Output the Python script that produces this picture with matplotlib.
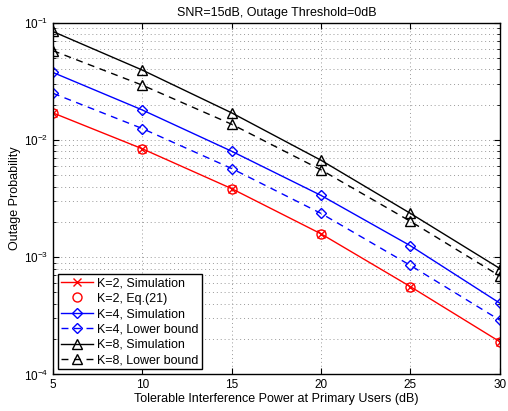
import matplotlib
matplotlib.use("Agg")
import matplotlib.pyplot as plt
import numpy as np

plt.rcParams['font.family'] = ['Liberation Sans', 'DejaVu Sans']

x = [5, 10, 15, 20, 25, 30]
k2_sim = [0.0170, 0.0084, 0.00384, 0.00158, 0.000560, 0.000190]
k2_eq = [0.0170, 0.0084, 0.00384, 0.00158, 0.000560, 0.000190]
k4_sim = [0.0376, 0.0180, 0.0080, 0.00336, 0.00125, 0.000405]
k4_lb = [0.0250, 0.0125, 0.0057, 0.00236, 0.00085, 0.000290]
k8_sim = [0.0840, 0.0394, 0.0170, 0.00670, 0.00236, 0.000800]
k8_lb = [0.0577, 0.0293, 0.0136, 0.00555, 0.00202, 0.000690]

fig = plt.figure(figsize=(5.08, 4.11), dpi=100)
ax = fig.add_axes([0.104, 0.089, 0.880, 0.856])

ms = 6.5
ax.plot(x, k2_sim, color='red', marker='x', ms=ms * 0.8, lw=1, label='K=2, Simulation')
ax.plot(x, k2_eq, color='red', marker='o', ms=ms, lw=0, mfc='none', label='K=2, Eq.(21)')
ax.plot(x, k4_sim, color='blue', marker='D', ms=ms * 0.85, lw=1, mfc='none', label='K=4, Simulation')
ax.plot(x, k4_lb, color='blue', marker='D', ms=ms * 0.85, lw=1, ls=(0, (5, 4)), mfc='none', label='K=4, Lower bound')
ax.plot(x, k8_sim, color='black', marker='^', ms=ms * 1.1, lw=1, mfc='none', label='K=8, Simulation')
ax.plot(x, k8_lb, color='black', marker='^', ms=ms * 1.1, lw=1, ls=(0, (5, 4)), mfc='none', label='K=8, Lower bound')

ax.set_yscale('log')
ax.set_xlim(5, 30)
ax.set_ylim(1e-4, 1e-1)
ax.set_xticks([5, 10, 15, 20, 25, 30])
ax.tick_params(which='both', direction='in', top=True, right=True, labelsize=8.5)
ax.tick_params(which='major', length=4)
ax.tick_params(which='minor', length=2)
ax.grid(True, which='major', ls=(0, (1, 3)), color='#999999', lw=0.7)
ax.grid(True, which='minor', axis='y', ls=(0, (1, 3)), color='#999999', lw=0.7)
for s in ax.spines.values():
    s.set_linewidth(1.0)

ax.set_title('SNR=15dB, Outage Threshold=0dB', fontsize=9, pad=5)
ax.set_xlabel('Tolerable Interference Power at Primary Users (dB)', fontsize=9, labelpad=1)
ax.set_ylabel('Outage Probability', fontsize=9, labelpad=2)

leg = ax.legend(loc='lower left', fontsize=9, fancybox=False, edgecolor='black',
                framealpha=1, borderpad=0.25, labelspacing=0.27, handlelength=2.6,
                handletextpad=0.3, borderaxespad=0.4)
leg.get_frame().set_linewidth(1.0)

fig.savefig('out.png', dpi=100)
